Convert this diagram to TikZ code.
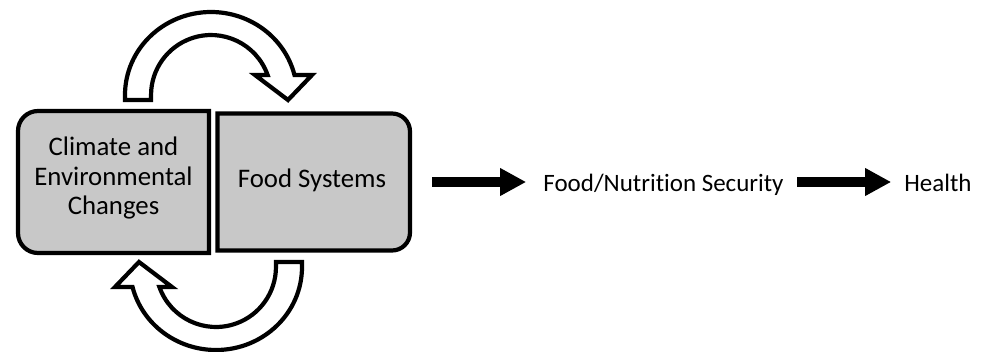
\documentclass[tikz,border=0pt]{standalone}
\usepackage{fontspec}
\setmainfont{Carlito}[Ligatures=NoCommon]
\usetikzlibrary{arrows.meta}
\definecolor{boxgray}{RGB}{200,200,200}
\begin{document}
\begin{tikzpicture}[x=1pt,y=1pt,
  outl/.style={line width=4.2pt, line join=miter},
  boxshape/.style={outl, fill=boxgray},
  curvarrow/.style={outl, fill=white},
  boxtext/.style={font=\fontsize{26.8}{29.5}\selectfont, align=center, inner sep=0pt},
  plaintext/.style={font=\fontsize{25}{30}\selectfont, inner sep=0pt},
  fatarrow/.style={line width=10pt, -{Triangle[length=26pt,width=26pt]}}]
\useasboundingbox (0,0) rectangle (982,-351);
% boxes
\draw[boxshape] (209,-111) -- (38,-111) arc[start angle=90,end angle=180,radius=20]
  -- (18,-233) arc[start angle=180,end angle=270,radius=20] -- (209,-253) -- cycle;
\draw[boxshape] (217.5,-113.5) -- (392,-113.5) arc[start angle=90,end angle=0,radius=18]
  -- (410,-232.5) arc[start angle=0,end angle=-90,radius=18] -- (217.5,-250.5) -- cycle;
% top curved arrow
\draw[curvarrow] (125,-100) -- (125,-95)
  arc[start angle=180,end angle=14,x radius=86,y radius=83]
  -- (312,-75) -- (288,-100) -- (255,-75) -- (267.6,-75)
  arc[start angle=19.5,end angle=180,radius=60] -- (151,-100) -- cycle;
% bottom curved arrow
\begin{scope}[rotate around={180:(213.5,-181)}]
\draw[curvarrow] (125,-100) -- (125,-95)
  arc[start angle=180,end angle=14,x radius=86,y radius=83]
  -- (312,-75) -- (288,-100) -- (255,-75) -- (267.6,-75)
  arc[start angle=19.5,end angle=180,radius=60] -- (151,-100) -- cycle;
\end{scope}
% texts
\node[boxtext] (cec) at (113.5,-178) {Climate and\\Environmental\\Changes};
\node[boxtext, anchor=base] (fs) at (312,-187) {Food Systems};
\node[plaintext, anchor=base] (fns) at (663.5,-191) {Food/Nutrition Security};
\node[plaintext, anchor=base] (hl) at (938,-191) {Health};
% straight arrows
\coordinate (a1s) at (432,-182);
\draw[fatarrow, shorten >=17pt] (a1s) -- (fns.west |- a1s);
\draw[fatarrow, shorten <=13.5pt, shorten >=13pt] (fns.east |- a1s) -- (hl.west |- a1s);
\end{tikzpicture}
\end{document}
